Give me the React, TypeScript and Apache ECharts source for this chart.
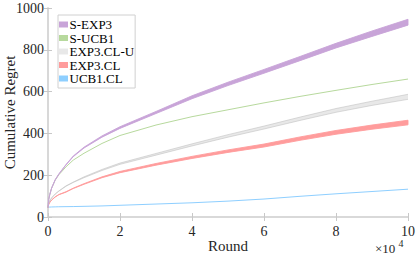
import React, { useEffect, useRef } from "react";
import * as echarts from "echarts";

// Rounds (x values)
const rounds = [0, 200, 500, 1000, 2000, 3000, 5000, 7000, 10000, 15000, 20000, 30000, 40000, 50000, 60000, 70000, 80000, 90000, 100000];

// Cumulative regret (means)
const sExp3 = [45, 85, 108, 138, 178, 205, 250, 290, 332, 385, 428, 500, 573, 637, 697, 758, 820, 877, 932];
const sExp3Spread = [0, 0, 0, 0.5, 0.5, 1, 1, 1.5, 2, 3, 4, 5, 7, 8, 9, 10, 11, 13, 14];

const sUcb1 = [45, 85, 108, 138, 176, 202, 240, 272, 305, 352, 390, 440, 480, 513, 546, 577, 606, 634, 660];

const exp3ClU = [45, 65, 77, 91, 110, 124, 148, 166, 190, 225, 255, 300, 345, 388, 428, 470, 510, 544, 575];
const exp3ClUSpread = [0, 0, 0, 0, 0.5, 0.5, 1, 1, 2, 2.5, 3, 4, 5, 6, 7, 8, 9, 10, 12];

const exp3Cl = [45, 61, 70, 81, 96, 107, 120, 137, 158, 190, 215, 252, 285, 315, 342, 375, 405, 430, 452];
const exp3ClSpread = [0, 0, 0, 0, 0.5, 0.5, 1, 1, 1.5, 2, 3, 4, 5, 6, 7, 8, 9, 10, 11];

const ucb1Cl = [47, 47, 47.5, 48, 48.5, 49, 49.5, 50, 51, 53, 56, 62, 68, 76, 86, 99, 111, 122, 133];

const yTicks = [0, 200, 400, 600, 800, 1000];
const xTickStep = 20000;

const seriesNames = ["S-EXP3", "S-UCB1", "EXP3.CL-U", "EXP3.CL", "UCB1.CL"];

const FONT = "Liberation Serif, Times New Roman, serif";

function band(name: string, means: number[], spreads: number[], fill: string, edge: string | null, z: number) {
  return {
    type: "custom",
    name,
    coordinateSystem: "cartesian2d",
    z,
    silent: true,
    itemStyle: { color: fill },
    data: [[rounds[0], means[0]]],
    renderItem: (_params: any, api: any) => {
      const upper = rounds.map((r, i) => api.coord([r, means[i] + spreads[i]]));
      const lower = rounds.map((r, i) => api.coord([r, means[i] - spreads[i]]));
      const children: any[] = [
        {
          type: "polygon",
          shape: { points: upper.concat(lower.slice().reverse()) },
          style: { fill, stroke: edge ? null : fill, lineWidth: 0.9 },
        },
      ];
      if (edge) {
        children.push({ type: "polyline", shape: { points: upper }, style: { fill: null, stroke: edge, lineWidth: 0.6 } });
        children.push({ type: "polyline", shape: { points: lower }, style: { fill: null, stroke: edge, lineWidth: 0.6 } });
      }
      return { type: "group", children };
    },
  };
}

function line(name: string, values: number[], color: string, z: number) {
  return {
    type: "line",
    name,
    z,
    data: rounds.map((r, i) => [r, values[i]]),
    showSymbol: false,
    symbol: "none",
    smooth: false,
    lineStyle: { color, width: 1 },
    itemStyle: { color },
    silent: true,
  };
}

export default function App() {
  const ref = useRef<HTMLDivElement>(null);
  useEffect(() => {
    if (!ref.current) return;
    const chart = echarts.init(ref.current, null, { renderer: "svg" });
    const axisLineStyle = { color: "#d6d6d6", width: 1.5 };
    const tickStyle = { color: "#c8c8c8", width: 1 };
    chart.setOption({
      animation: false,
      backgroundColor: "#ffffff",
      textStyle: { fontFamily: FONT },
      grid: { left: 48, right: 11, top: 8, bottom: 40, containLabel: false, outerBoundsMode: "none" },
      legend: {
        data: seriesNames,
        orient: "vertical",
        left: 58,
        top: 15,
        icon: "rect",
        itemWidth: 9,
        itemHeight: 6,
        itemGap: 0.5,
        padding: [3, 1, 3, 1],
        borderColor: "#d0d0d0",
        borderWidth: 1,
        borderRadius: 0,
        backgroundColor: "#ffffff",
        textStyle: { fontFamily: FONT, fontSize: 13, color: "#000", padding: [0, 0, 0, -3.5] },
      },
      xAxis: [
        {
          type: "value",
          min: 0,
          max: 100000,
          interval: xTickStep,
          name: "Round",
          nameLocation: "middle",
          nameGap: 21,
          nameMoveOverlap: false,
          nameTextStyle: { fontFamily: FONT, fontSize: 15, color: "#262626" },
          axisLine: { show: true, lineStyle: axisLineStyle },
          axisTick: { show: true, inside: true, length: 4, lineStyle: tickStyle },
          axisLabel: {
            fontFamily: FONT,
            fontSize: 14,
            color: "#262626",
            margin: 7,
            formatter: (v: number) => String(v / 10000),
          },
          splitLine: { show: false },
        },
        {
          type: "value",
          position: "top",
          min: 0,
          max: 100000,
          interval: xTickStep,
          axisLine: { show: true, lineStyle: axisLineStyle },
          axisTick: { show: true, inside: true, length: 4, lineStyle: tickStyle },
          axisLabel: { show: false },
          splitLine: { show: false },
        },
      ],
      yAxis: [
        {
          type: "value",
          min: yTicks[0],
          max: yTicks[yTicks.length - 1],
          interval: 200,
          name: "Cumulative Regret",
          nameLocation: "middle",
          nameGap: 31,
          nameMoveOverlap: false,
          nameTextStyle: { fontFamily: FONT, fontSize: 15, color: "#262626" },
          axisLine: { show: true, lineStyle: axisLineStyle },
          axisTick: { show: true, inside: true, length: 4, lineStyle: tickStyle },
          axisLabel: {
            fontFamily: FONT,
            fontSize: 14,
            color: "#262626",
            margin: 4,
            formatter: (v: number) => String(v),
          },
          splitLine: { show: false },
        },
        {
          type: "value",
          position: "right",
          min: yTicks[0],
          max: yTicks[yTicks.length - 1],
          interval: 200,
          axisLine: { show: true, lineStyle: axisLineStyle },
          axisTick: { show: true, inside: true, length: 4, lineStyle: tickStyle },
          axisLabel: { show: false },
          splitLine: { show: false },
        },
      ],
      graphic: [
        {
          type: "text",
          left: 375,
          top: 242,
          style: { text: "×10", fontFamily: FONT, fontSize: 13, fill: "#262626" },
        },
        {
          type: "text",
          left: 398.5,
          top: 238,
          style: { text: "4", fontFamily: FONT, fontSize: 10, fill: "#262626" },
        },
      ],
      series: [
        line("UCB1.CL", ucb1Cl, "#8ecfff", 2),
        band("EXP3.CL", exp3Cl, exp3ClSpread, "#ff9c9c", null, 3),
        band("EXP3.CL-U", exp3ClU, exp3ClUSpread, "#e8e8e8", "#c2c2c2", 4),
        line("S-UCB1", sUcb1, "#b7d99d", 5),
        band("S-EXP3", sExp3, sExp3Spread, "#c8a4d8", null, 6),
      ],
    });
    return () => chart.dispose();
  }, []);
  return <div ref={ref} style={{ position: "fixed", left: 0, top: 0, width: 419, height: 257 }} />;
}
